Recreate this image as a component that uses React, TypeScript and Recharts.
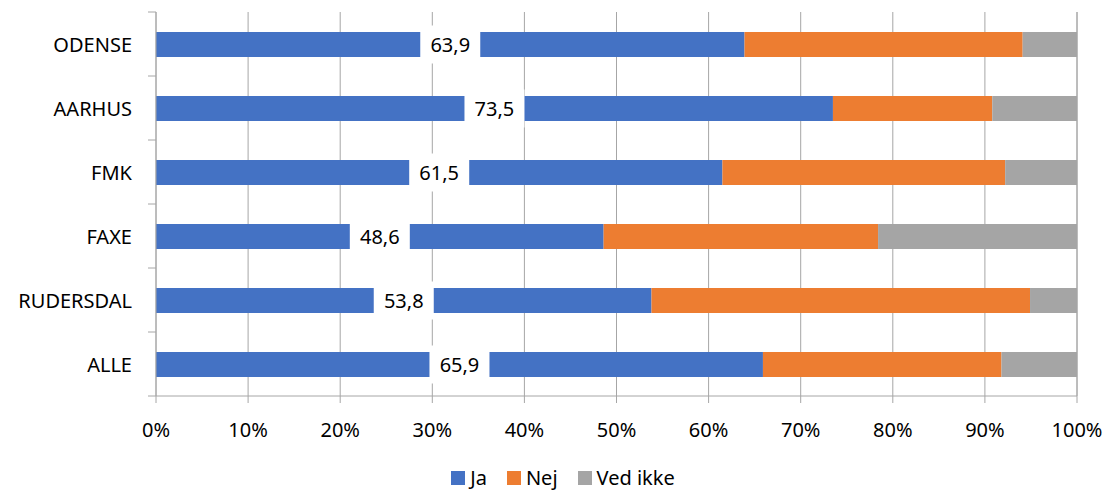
import React from 'react';
import { BarChart, Bar, XAxis, YAxis, CartesianGrid, Legend, LabelList } from 'recharts';

const kommuner = ['ODENSE', 'AARHUS', 'FMK', 'FAXE', 'RUDERSDAL', 'ALLE'];
const ja = [63.9, 73.5, 61.5, 48.6, 53.8, 65.9];
const nej = [30.2, 17.3, 30.7, 29.8, 41.1, 25.9];
const vedIkke = [5.9, 9.2, 7.8, 21.6, 5.1, 8.2];
const pctTicks = [0, 10, 20, 30, 40, 50, 60, 70, 80, 90, 100];

const data = kommuner.map((name, i) => ({
  name,
  ja: ja[i],
  nej: nej[i],
  vedIkke: vedIkke[i],
}));

const font = "'Noto Sans', sans-serif";
const gridColor = '#a6a6a6';
const BAND = 64;

const CategoryTick = (props: any) => {
  const { y, payload, index } = props;
  const axisX = 156;
  return (
    <g>
      <line x1={axisX - 8} x2={axisX} y1={y - BAND / 2} y2={y - BAND / 2} stroke={gridColor} />
      {index === kommuner.length - 1 && (
        <line x1={axisX - 8} x2={axisX} y1={y + BAND / 2} y2={y + BAND / 2} stroke={gridColor} />
      )}
      <text x={axisX - 24} y={y} textAnchor="end" dominantBaseline="central" fontSize={20} fontFamily={font} fill="#000">
        {payload.value}
      </text>
    </g>
  );
};

const ValueLabel = (props: any) => {
  const { x, y, width, height, value } = props;
  const cx = x + width / 2;
  const cy = y + height / 2;
  return (
    <g>
      <rect x={cx - 30} y={cy - 19} width={60} height={38} fill="#fff" />
      <text x={cx} y={cy} textAnchor="middle" dominantBaseline="central" fontSize={20} fontFamily={font} fill="#000">
        {String(value).replace('.', ',')}
      </text>
    </g>
  );
};

const series = [
  { key: 'ja', name: 'Ja', color: '#4472C4' },
  { key: 'nej', name: 'Nej', color: '#ED7D31' },
  { key: 'vedIkke', name: 'Ved ikke', color: '#A5A5A5' },
];

const LegendContent = () => (
  <div style={{ display: 'flex', justifyContent: 'center', fontFamily: font, fontSize: 20, lineHeight: '22px', paddingLeft: 69 }}>
    {series.map((s) => (
      <div key={s.key} style={{ display: 'flex', alignItems: 'center', marginRight: 20 }}>
        <span style={{ width: 14, height: 14, background: s.color, display: 'inline-block', marginRight: 5 }} />
        <span>{s.name}</span>
      </div>
    ))}
  </div>
);

export default function App() {
  return (
    <div style={{ position: 'absolute', left: 0, top: 0, width: 1107, height: 491, background: '#fff' }}>
      <BarChart
        width={1107}
        height={491}
        data={data}
        layout="vertical"
        margin={{ top: 12, right: 30, left: 0, bottom: 0 }}
        barSize={25}
      >
        <CartesianGrid horizontal={false} stroke={gridColor} />
        <XAxis
          type="number"
          domain={[0, 100]}
          ticks={pctTicks}
          tickFormatter={(v) => `${v}%`}
          stroke={gridColor}
          tickSize={7}
          tickMargin={20}
          height={71}
          tick={{ fill: '#000', fontSize: 20, fontFamily: font }}
        />
        <YAxis
          type="category"
          dataKey="name"
          width={156}
          stroke={gridColor}
          tickLine={false}
          tick={<CategoryTick />}
        />
        <Legend verticalAlign="bottom" height={24} content={<LegendContent />} />
        {series.map((s) => (
          <Bar key={s.key} dataKey={s.key} name={s.name} stackId="a" fill={s.color} isAnimationActive={false}>
            {s.key === 'ja' && <LabelList dataKey="ja" content={<ValueLabel />} />}
          </Bar>
        ))}
      </BarChart>
    </div>
  );
}
